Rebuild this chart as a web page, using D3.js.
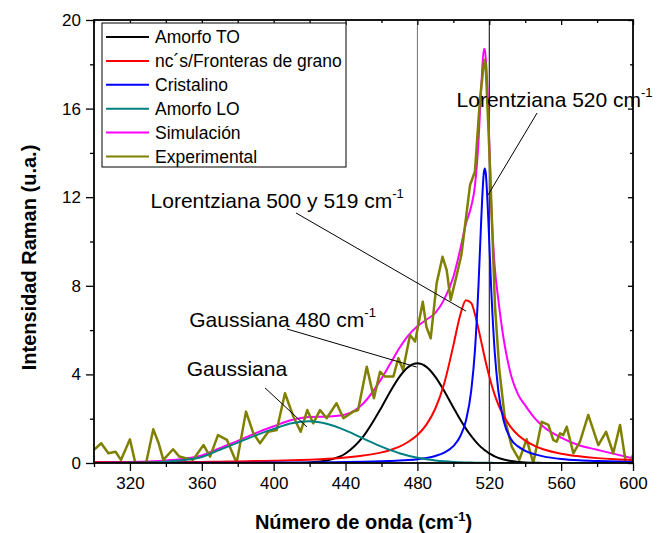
<!DOCTYPE html>
<html>
<head>
<meta charset="utf-8">
<script src="https://cdn.jsdelivr.net/npm/d3@7/dist/d3.min.js"></script>
<style>
  body { margin: 0; background: #fff; }
  text { font-family: "Liberation Sans", Arial, sans-serif; }
</style>
</head>
<body>
<div id="chart"></div>
<script>
// wavenumber grid shared by the fitted components (cm-1)
const waveX = [300,310,320,330,340,350,360,370,380,390,400,410,420,430,440,450,
  460,465,470,475,480,485,490,495,500,504,507,510,512,514,
  515.5,517,517.5,518,519.5,521,523,525,528,532,536,540,545,550,560,570,580,590,600];

const amorfoTO = [0,0,0,0,0,0,0,0,0,0,0,0.004,0.023,0.12,0.43,1.21,
  2.51,3.24,3.89,4.34,4.5,4.34,3.89,3.24,2.51,1.94,1.55,1.21,1.01,0.83,
  0.71,0.61,0.58,0.55,0.46,0.39,0.3,0.23,0.16,0.09,0.05,0.02,0.01,0,0,0,0,0,0];

const ncFronteras = [0.03,0.03,0.03,0.04,0.04,0.05,0.05,0.06,0.07,0.09,0.10,0.12,0.15,0.19,0.25,0.34,
  0.48,0.59,0.74,0.96,1.26,1.73,2.46,3.61,5.30,6.73,7.35,7.22,6.73,6.05,
  5.49,4.93,4.75,4.57,4.07,3.61,3.09,2.65,2.13,1.62,1.26,1.01,0.78,0.62,0.42,0.30,0.22,0.17,0.14];

const cristalino = [0.005,0.006,0.006,0.007,0.008,0.009,0.01,0.011,0.013,0.015,0.018,0.021,0.026,0.032,0.041,0.054,
  0.074,0.089,0.108,0.135,0.173,0.229,0.318,0.469,0.758,1.23,1.91,3.29,5.05,8.0,
  10.94,13.12,13.3,13.12,10.94,8.0,5.05,3.29,1.91,1.08,0.75,0.55,0.4,0.3,0.18,0.12,0.09,0.07,0.05];

const amorfoLO = [0.001,0.003,0.008,0.023,0.059,0.133,0.272,0.6,0.92,1.25,1.54,1.797,1.88,1.758,1.47,1.10,
  0.739,0.58,0.443,0.329,0.238,0.167,0.114,0.076,0.049,0.034,0.025,0.019,0.015,0.012,
  0.01,0.009,0.008,0.008,0.007,0.006,0.005,0.004,0.003,0.002,0.001,0.001,0,0,0,0,0,0,0];

const simulacion = [0.04,0.04,0.05,0.07,0.11,0.19,0.34,0.67,1.0,1.35,1.66,1.94,2.08,2.1,2.19,2.7,
  3.81,4.5,5.19,5.76,6.17,6.47,6.78,7.4,8.4,9.7,10.8,11.6,12.5,14.5,
  16.9,18.7,18.65,18.3,15.9,11.8,8.9,7.4,5.6,4.0,3.1,2.6,2.05,1.65,1.15,0.8,0.6,0.4,0.21];

// experimental spectrum
const expX = [300,304,308,312,315,320,323,329,333,336,338.6,344,347.5,351.6,355,361,364.6,369,374,379.4,
  384.6,388.7,392.4,397,401.7,406.3,411,415,418.7,422,425.8,429.5,435,438.8,444.3,447,451.8,455.8,459.2,462,
  466.6,469.4,472,475.9,478.7,483,485,487.4,490.7,494,496.3,498.5,501,504.5,509.3,512,514.8,517.2,518,520.4,
  522.2,523.2,525.6,528.8,532.5,536.7,540.8,544.5,549.2,552.9,555.6,557.5,559.4,561.2,563.1,566.8,570.5,575.1,580.7,585,
  589,592.8,596,598.3,600];
const expY = [0.59,0.89,0.44,0.51,0.14,1.07,0,0,1.52,0.89,0.14,0.62,0.29,0.21,0.14,0.81,0.29,1.26,1.04,0,
  2.32,1.34,0.89,1.41,1.49,3.15,2.09,1.41,2.39,1.79,2.39,2.02,2.7,2.02,2.32,2.39,4.35,2.92,4.12,3.9,
  3.9,4.73,4.2,5.78,5.48,7.28,6.15,5.63,8.11,9.31,8.71,7.36,8.19,9.4,12.55,13.15,16.4,18.2,18.05,13.4,
  9.31,7.06,4.2,1.94,0.74,0.14,1.07,0,1.86,1.72,1.04,0.96,1.34,1.26,1.64,0.44,0.96,2.17,0.81,1.41,
  0.44,1.72,0,0,0.36];

const seriesNames = ["Amorfo TO", "nc\u00B4s/Fronteras de grano", "Cristalino", "Amorfo LO", "Simulaci\u00F3n", "Experimental"];
const seriesColors = ["#000000", "#ff0000", "#0000ff", "#008080", "#ff00ff", "#808000"];

const xTicks = [320, 360, 400, 440, 480, 520, 560, 600];
const xMinor = [300, 340, 380, 420, 460, 500, 540, 580];
const yTicks = [0, 4, 8, 12, 16, 20];
const yMinor = [2, 6, 10, 14, 18];
const refLines = [480, 520];
const refColors = ["#707070", "#000000"];

// annotations: text anchor and pointer line in data units
const notes = [
  { label: "Lorentziana 520 cm", tx: 501.8, ty: 16.09, x1: 546.6, y1: 15.8, x2: 519.3, y2: 12.1 },
  { label: "Lorentziana 500 y 519 cm", tx: 331.5, ty: 11.5, x1: 412.4, y1: 11.29, x2: 507.0, y2: 6.86 },
  { label: "Gaussiana 480 cm", tx: 353, ty: 6.15, x1: 407.4, y1: 6.05, x2: 479.6, y2: 4.33 },
  { label: "Gaussiana", tx: 351.6, ty: 3.94, x1: 395.2, y1: 3.39, x2: 418.5, y2: 1.63 }
];

const margin = { left: 94, top: 20, right: 26, bottom: 70 };
const width = 659 - margin.left - margin.right;
const height = 533 - margin.top - margin.bottom;

const svg = d3.select("#chart").append("svg")
  .attr("width", 659)
  .attr("height", 533);
const g = svg.append("g")
  .attr("transform", `translate(${margin.left},${margin.top})`);

const x = d3.scaleLinear().domain([300, 600]).range([0, width]);
const y = d3.scaleLinear().domain([0, 20]).range([height, 0]);

g.append("clipPath").attr("id", "plot-clip")
  .append("rect").attr("width", width).attr("height", height);

// reference lines
g.selectAll(".ref").data(refLines).enter().append("line")
  .attr("x1", d => x(d)).attr("x2", d => x(d))
  .attr("y1", 0).attr("y2", height)
  .attr("stroke", (d, i) => refColors[i])
  .attr("stroke-width", 1);

// curves
const line = d3.line()
  .x(d => x(d[0])).y(d => y(d[1]))
  .curve(d3.curveMonotoneX);
const rawLine = d3.line().x(d => x(d[0])).y(d => y(d[1]));

const plot = g.append("g").attr("clip-path", "url(#plot-clip)");

function drawModel(values, color) {
  plot.append("path")
    .datum(waveX.map((w, i) => [w, values[i]]))
    .attr("fill", "none")
    .attr("stroke", color)
    .attr("stroke-width", 2)
    .attr("d", line);
}

drawModel(simulacion, seriesColors[4]);
plot.append("path")
  .datum(expX.map((w, i) => [w, expY[i]]))
  .attr("fill", "none")
  .attr("stroke", seriesColors[5])
  .attr("stroke-width", 2.5)
  .attr("stroke-linejoin", "round")
  .attr("d", rawLine);
drawModel(amorfoTO, seriesColors[0]);
drawModel(ncFronteras, seriesColors[1]);
drawModel(cristalino, seriesColors[2]);
drawModel(amorfoLO, seriesColors[3]);

// axes
g.append("g").attr("transform", `translate(0,${height})`)
  .call(d3.axisBottom(x).tickValues(xTicks).tickSize(8).tickSizeOuter(0).tickPadding(6));
g.append("g").attr("transform", `translate(0,${height})`)
  .call(d3.axisBottom(x).tickValues(xMinor).tickSize(4).tickSizeOuter(0).tickFormat(""));
g.append("g")
  .call(d3.axisLeft(y).tickValues(yTicks).tickSize(8).tickSizeOuter(0).tickPadding(5));
g.append("g")
  .call(d3.axisLeft(y).tickValues(yMinor).tickSize(4).tickSizeOuter(0).tickFormat(""));
g.append("g")
  .call(d3.axisTop(x).tickValues(xTicks).tickSize(-5).tickSizeOuter(0).tickFormat(""));
g.append("g")
  .call(d3.axisTop(x).tickValues(xMinor).tickSize(-3).tickSizeOuter(0).tickFormat(""));
g.append("g").attr("transform", `translate(${width},0)`)
  .call(d3.axisRight(y).tickValues(yTicks).tickSize(-5).tickSizeOuter(0).tickFormat(""));
g.append("g").attr("transform", `translate(${width},0)`)
  .call(d3.axisRight(y).tickValues(yMinor).tickSize(-3).tickSizeOuter(0).tickFormat(""));

g.selectAll(".domain").remove();
g.selectAll(".tick line").attr("stroke", "#000").attr("stroke-width", 1.3);
g.selectAll(".tick text").attr("font-size", "17px").attr("fill", "#000")
  .style("font-family", "'Liberation Sans', Arial, sans-serif");

g.append("rect")
  .attr("width", width).attr("height", height)
  .attr("fill", "none").attr("stroke", "#000").attr("stroke-width", 1.8);

// axis titles
const xTitle = g.append("text")
  .attr("x", width / 2).attr("y", height + 66)
  .attr("text-anchor", "middle")
  .attr("font-size", "20px").attr("font-weight", "bold");
xTitle.append("tspan").text("N\u00FAmero de onda (cm");
xTitle.append("tspan").attr("dy", -8).attr("font-size", "13px").text("-1");
xTitle.append("tspan").attr("dy", 8).text(")");

g.append("text")
  .attr("transform", `translate(-58,${height / 2 + 16}) rotate(-90)`)
  .attr("text-anchor", "middle")
  .attr("font-size", "20px").attr("font-weight", "bold")
  .text("Intensidad Raman (u.a.)");

// annotations
notes.forEach(n => {
  g.append("line")
    .attr("x1", x(n.x1)).attr("y1", y(n.y1))
    .attr("x2", x(n.x2)).attr("y2", y(n.y2))
    .attr("stroke", "#000").attr("stroke-width", 1);
  const t = g.append("text")
    .attr("x", x(n.tx)).attr("y", y(n.ty))
    .attr("font-size", "21px").attr("fill", "#000");
  t.append("tspan").text(n.label);
  if (n.label.endsWith("cm")) {
    t.append("tspan").attr("dy", -10).attr("font-size", "13px").text("-1");
  }
});

// legend
const legend = g.append("g").attr("transform", "translate(8,3)");
legend.append("rect")
  .attr("width", 244).attr("height", 144)
  .attr("fill", "#fff").attr("stroke", "#000").attr("stroke-width", 1);
const rows = legend.selectAll(".row").data(seriesNames).enter().append("g")
  .attr("transform", (d, i) => `translate(0,${14 + i * 23.9})`);
rows.append("line")
  .attr("x1", 4).attr("x2", 47)
  .attr("stroke", (d, i) => seriesColors[i])
  .attr("stroke-width", 2);
rows.append("text")
  .attr("x", 53).attr("y", 6)
  .attr("font-size", "17.5px").attr("fill", "#000")
  .text(d => d);
</script>
</body>
</html>
